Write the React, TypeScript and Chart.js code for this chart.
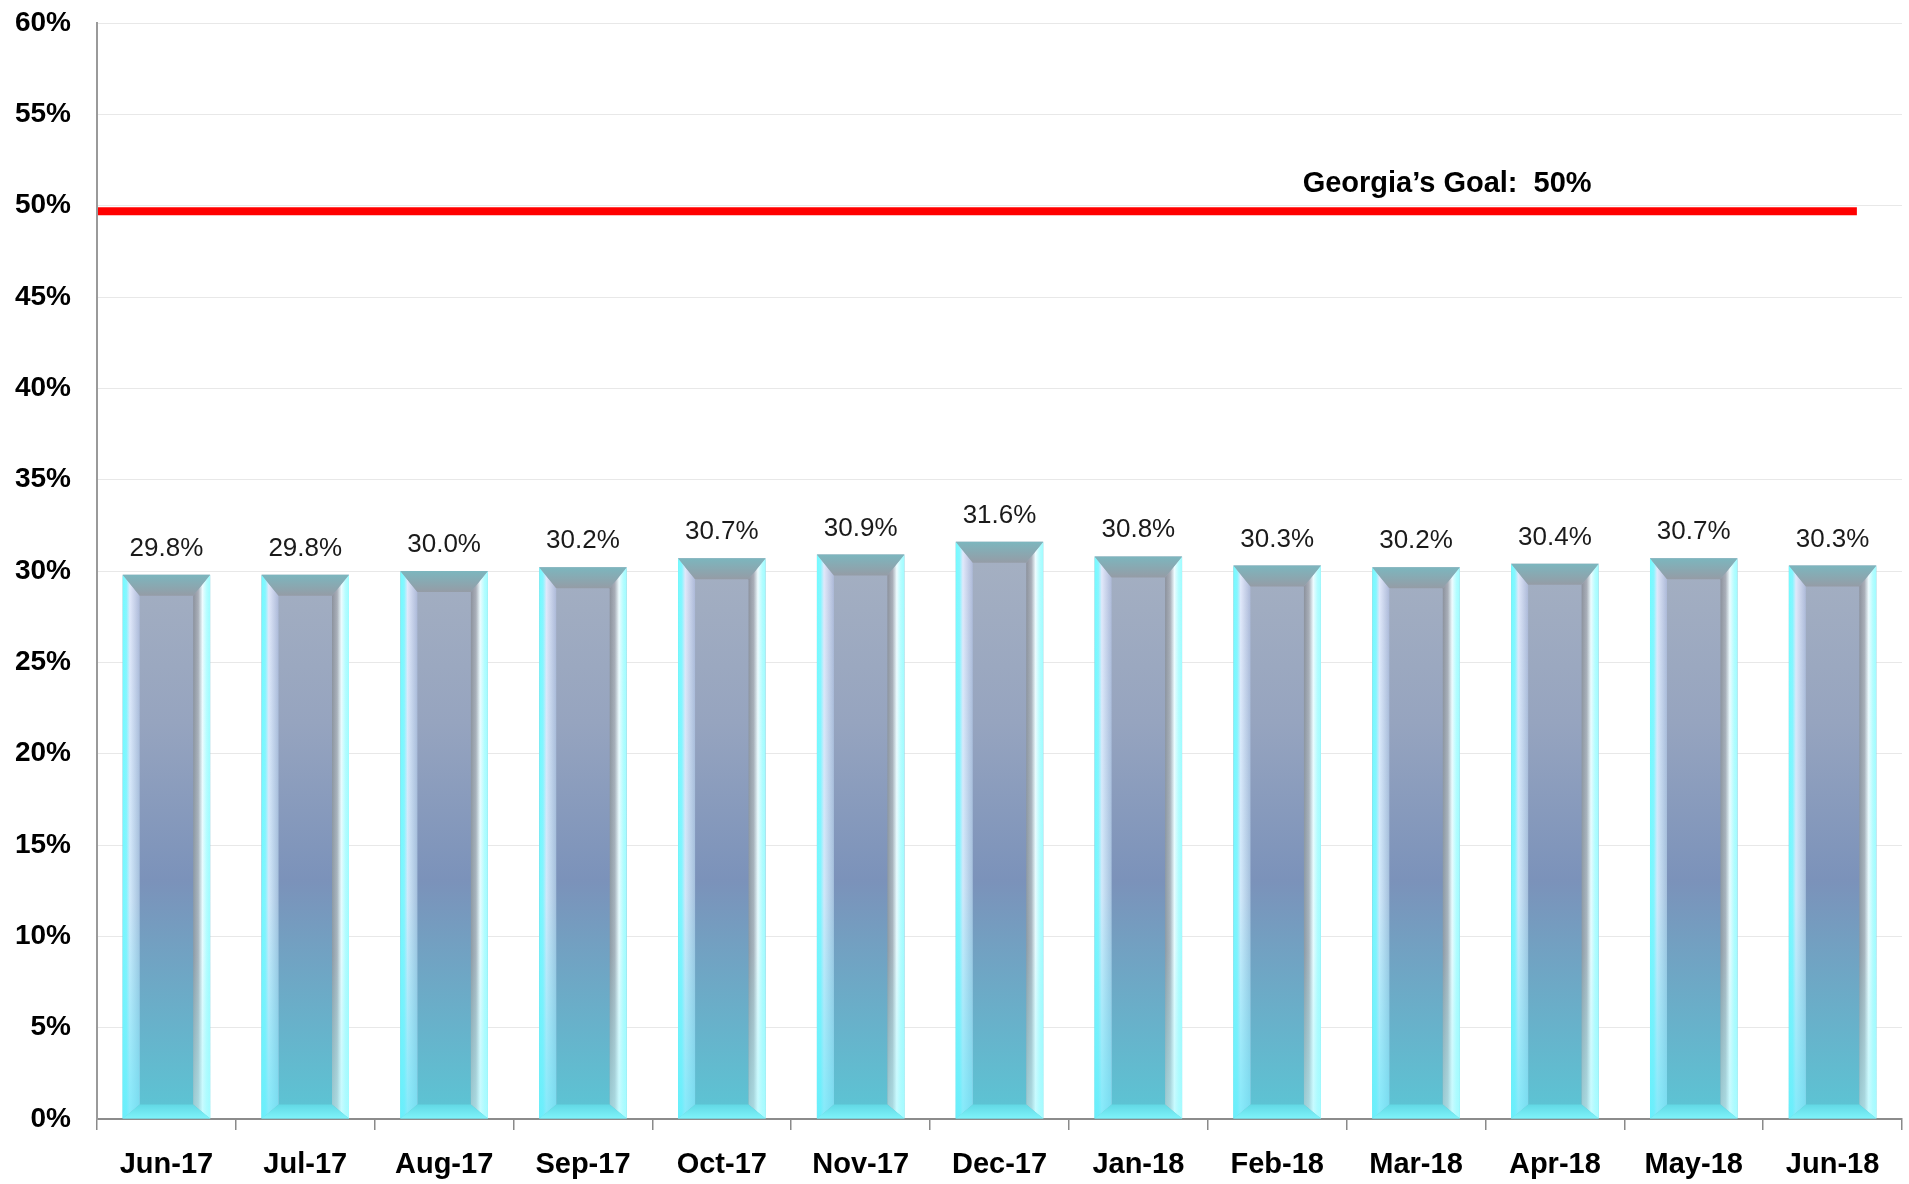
import React, { useEffect, useRef } from "react";
import { Chart, registerables } from "chart.js";

Chart.register(...registerables);

const months = [
  "Jun-17", "Jul-17", "Aug-17", "Sep-17", "Oct-17", "Nov-17", "Dec-17",
  "Jan-18", "Feb-18", "Mar-18", "Apr-18", "May-18", "Jun-18",
];
const rates = [29.8, 29.8, 30.0, 30.2, 30.7, 30.9, 31.6, 30.8, 30.3, 30.2, 30.4, 30.7, 30.3];
const yMin = 0;
const yMax = 60;
const yStep = 5;
const goalLabel = "Georgia\u2019s Goal:  50%";
const goalLineValue = 49.7;
const goalLabelValue = 51.2;

const FONT = "'Liberation Sans', Arial, Helvetica, sans-serif";

const bevelPlugin = {
  id: "bevel",
  afterDatasetsDraw(chart: any) {
    const ctx = chart.ctx as CanvasRenderingContext2D;
    const meta = chart.getDatasetMeta(0);
    meta.data.forEach((bar: any) => {
      const { x, y, base, width } = bar.getProps(["x", "y", "base", "width"], true);
      const l = x - width / 2;
      const r = x + width / 2;
      const t = y;
      const b = base;
      const bv = Math.min(17, width * 0.2);
      const bt = bv + 4;
      const bb = bv - 3;
      ctx.save();
      const leftPath = () => {
        ctx.beginPath();
        ctx.moveTo(l, t);
        ctx.lineTo(l + bv, t + bt);
        ctx.lineTo(l + bv, b - bb);
        ctx.lineTo(l, b);
        ctx.closePath();
      };
      const rightPath = () => {
        ctx.beginPath();
        ctx.moveTo(r, t);
        ctx.lineTo(r - bv, t + bt);
        ctx.lineTo(r - bv, b - bb);
        ctx.lineTo(r, b);
        ctx.closePath();
      };
      // left bevel
      let g = ctx.createLinearGradient(l, 0, l + bv, 0);
      g.addColorStop(0, "#72fbff");
      g.addColorStop(0.22, "#86f6ff");
      g.addColorStop(0.42, "#e2e8fa");
      g.addColorStop(1, "#aeb9d8");
      ctx.fillStyle = g;
      leftPath();
      ctx.fill();
      let v = ctx.createLinearGradient(0, t, 0, b);
      v.addColorStop(0, "rgba(110,235,250,0)");
      v.addColorStop(0.6, "rgba(110,235,250,0.15)");
      v.addColorStop(1, "rgba(100,235,250,0.75)");
      ctx.fillStyle = v;
      leftPath();
      ctx.fill();
      // right bevel
      g = ctx.createLinearGradient(r - bv, 0, r, 0);
      g.addColorStop(0, "#8c919c");
      g.addColorStop(0.3, "#a9aeb8");
      g.addColorStop(0.55, "#eefcff");
      g.addColorStop(0.8, "#b4fdff");
      g.addColorStop(1, "#9ffcff");
      ctx.fillStyle = g;
      rightPath();
      ctx.fill();
      v = ctx.createLinearGradient(0, t, 0, b);
      v.addColorStop(0, "rgba(150,245,250,0)");
      v.addColorStop(0.7, "rgba(150,245,250,0.1)");
      v.addColorStop(1, "rgba(170,250,255,0.6)");
      ctx.fillStyle = v;
      rightPath();
      ctx.fill();
      // top bevel
      g = ctx.createLinearGradient(0, t, 0, t + bt);
      g.addColorStop(0, "#7cb6be");
      g.addColorStop(1, "#959ca6");
      ctx.fillStyle = g;
      ctx.beginPath();
      ctx.moveTo(l, t);
      ctx.lineTo(r, t);
      ctx.lineTo(r - bv, t + bt);
      ctx.lineTo(l + bv, t + bt);
      ctx.closePath();
      ctx.fill();
      // bottom bevel
      g = ctx.createLinearGradient(0, b - bb, 0, b);
      g.addColorStop(0, "#62d8e4");
      g.addColorStop(1, "#7ef3fa");
      ctx.fillStyle = g;
      ctx.beginPath();
      ctx.moveTo(l, b);
      ctx.lineTo(r, b);
      ctx.lineTo(r - bv, b - bb);
      ctx.lineTo(l + bv, b - bb);
      ctx.closePath();
      ctx.fill();
      ctx.restore();
    });
  },
};

const labelPlugin = {
  id: "valueLabels",
  afterDatasetsDraw(chart: any) {
    const ctx = chart.ctx as CanvasRenderingContext2D;
    const meta = chart.getDatasetMeta(0);
    ctx.save();
    ctx.font = `26px ${FONT}`;
    ctx.fillStyle = "#1a1a1a";
    ctx.textAlign = "center";
    ctx.textBaseline = "alphabetic";
    meta.data.forEach((bar: any, i: number) => {
      const { x, y } = bar.getProps(["x", "y"], true);
      ctx.fillText(rates[i].toFixed(1) + "%", x, y - 19);
    });
    ctx.restore();
  },
};

const goalPlugin = {
  id: "goalLine",
  afterDatasetsDraw(chart: any) {
    const ctx = chart.ctx as CanvasRenderingContext2D;
    const area = chart.chartArea;
    const yScale = chart.scales.y;
    const yLine = yScale.getPixelForValue(goalLineValue);
    const xEnd = area.left + (area.right - area.left) * 0.975;
    ctx.save();
    ctx.strokeStyle = "#ff0000";
    ctx.lineWidth = 8;
    ctx.beginPath();
    ctx.moveTo(area.left + 1, yLine);
    ctx.lineTo(xEnd, yLine);
    ctx.stroke();
    ctx.font = `bold 29px ${FONT}`;
    ctx.fillStyle = "#000";
    ctx.textAlign = "center";
    ctx.textBaseline = "middle";
    const xText = area.left + (area.right - area.left) * 0.748;
    ctx.fillText(goalLabel, xText, yScale.getPixelForValue(goalLabelValue));
    ctx.restore();
  },
};

export default function App() {
  const ref = useRef<HTMLCanvasElement | null>(null);

  useEffect(() => {
    if (!ref.current) return;
    const chart = new Chart(ref.current, {
      type: "bar",
      data: {
        labels: months,
        datasets: [
          {
            data: rates,
            backgroundColor: (c: any) => {
              const ch = c.chart;
              const area = ch.chartArea;
              if (!area) return "#7d94ba";
              const top = ch.scales.y.getPixelForValue(31);
              const g = ch.ctx.createLinearGradient(0, top, 0, area.bottom);
              g.addColorStop(0, "#a5b0c2");
              g.addColorStop(0.3, "#96a4bf");
              g.addColorStop(0.58, "#7b92ba");
              g.addColorStop(1, "#5bc6d5");
              return g;
            },
            borderWidth: 0,
            barPercentage: 0.63,
            categoryPercentage: 1,
          },
        ],
      },
      options: {
        responsive: false,
        animation: false,
        layout: { padding: { top: 23, right: 7, left: 0, bottom: 0 } },
        plugins: {
          legend: { display: false },
          tooltip: { enabled: false },
          title: { display: false },
        },
        scales: {
          x: {
            grid: {
              offset: true,
              drawOnChartArea: false,
              drawTicks: true,
              tickLength: 11,
              color: "#8a8a8a",
              lineWidth: 1.5,
            },
            border: { color: "#8c8c8c", width: 2 },
            ticks: {
              color: "#000",
              font: { family: FONT, size: 29, weight: "bold" },
              padding: 18,
              maxRotation: 0,
              autoSkip: false,
            },
            afterFit: (s: any) => {
              s.height = 65;
            },
          },
          y: {
            min: yMin,
            max: yMax,
            ticks: {
              stepSize: yStep,
              callback: (v: any) => v + "%",
              color: "#000",
              font: { family: FONT, size: 28, weight: "bold" },
              padding: 26,
            },
            grid: { color: "#e8e8e8", drawTicks: false, lineWidth: 1 },
            border: { color: "#9a9a9a", width: 2 },
            afterFit: (s: any) => {
              s.width = 97;
              s.paddingTop = 0;
              s.paddingBottom = 0;
            },
          },
        },
      },
      plugins: [bevelPlugin, labelPlugin, goalPlugin],
    });
    return () => chart.destroy();
  }, []);

  return (
    <div
      style={{
        position: "fixed",
        left: 0,
        top: 0,
        width: 1909,
        height: 1184,
        background: "#fff",
      }}
    >
      <canvas ref={ref} width={1909} height={1184} style={{ display: "block" }} />
    </div>
  );
}
